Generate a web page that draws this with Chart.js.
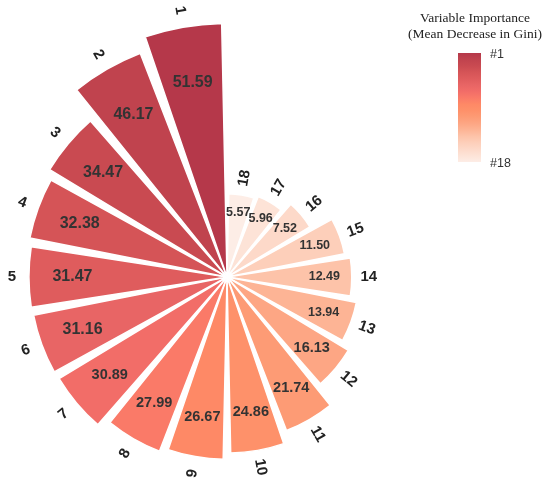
<!DOCTYPE html>
<html>
<head>
<meta charset="utf-8">
<script src="https://cdn.jsdelivr.net/npm/chart.js@4/dist/chart.umd.min.js"></script>
<style>
html,body{margin:0;padding:0;background:#fff;}
#wrap{width:550px;height:485px;position:relative;}
</style>
</head>
<body>
<div id="wrap"><canvas id="c"></canvas></div>
<script>
// ---- data (rank order #1 .. #18) ----
const ranks = ['1','2','3','4','5','6','7','8','9','10','11','12','13','14','15','16','17','18'];
const importance = [51.59, 46.17, 34.47, 32.38, 31.47, 31.16, 30.89, 27.99, 26.67, 24.86, 21.74, 16.13, 13.94, 12.49, 11.50, 7.52, 5.96, 5.57];
const sliceColors = ['#b5384a','#c0434e','#c94a51','#d55457','#df5c5d','#e86565','#f26d68','#fa7a68','#fe8966','#fe916a','#fd9b75','#fda684','#fdb495','#fdc3a9','#fdcfba','#fdd9c9','#fde3d7','#fdede6'];
const legendTitle = ['Variable Importance', '(Mean Decrease in Gini)'];
const legendEnds = ['#1', '#18'];

// slices are laid out clockwise from 12 o'clock: #18, #17, ..., #1
const order = ranks.map((_, i) => ranks.length - 1 - i);
const labels = order.map(i => ranks[i]);
const values = order.map(i => importance[i]);
const colors = order.map(i => sliceColors[i]);

// radial scale whose radius is proportional to sqrt(value) (area-proportional)
class SqrtRadialScale extends Chart.RadialLinearScale {
  getDistanceFromCenterForValue(value) {
    if (value === null || value === undefined || isNaN(value)) return NaN;
    return Math.sqrt(Math.max(value - this.min, 0)) * this.drawingArea / Math.sqrt(this.max - this.min);
  }
}
SqrtRadialScale.id = 'radialSqrt';
Chart.register(SqrtRadialScale);

// polar area with small angular gaps between wedges
const GAP_DEG = 2.4;
class GapPolarController extends Chart.PolarAreaController {
  updateElement(element, index, properties, mode) {
    if (properties && typeof properties.startAngle === 'number') {
      const g = GAP_DEG * Math.PI / 360;
      if (properties.endAngle - properties.startAngle > 2 * g) {
        properties.startAngle += g;
        properties.endAngle -= g;
      }
    }
    super.updateElement(element, index, properties, mode);
  }
}
GapPolarController.id = 'gapPolar';
Chart.register(GapPolarController);

function valueFontSize(rank) {
  if (rank <= 6) return 16;
  if (rank <= 12) return 14.5;
  return 12.5;
}

const sliceLabels = {
  id: 'sliceLabels',
  afterDatasetsDraw(chart) {
    const meta = chart.getDatasetMeta(0);
    const ctx = chart.ctx;
    meta.data.forEach((arc, i) => {
      const p = arc.getProps(['x', 'y', 'startAngle', 'endAngle', 'outerRadius'], true);
      const mid = (p.startAngle + p.endAngle) / 2;
      const rank = Number(labels[i]);
      ctx.save();
      ctx.textAlign = 'center';
      ctx.textBaseline = 'middle';
      // value label inside the wedge
      const rv = p.outerRadius * 0.78;
      ctx.font = 'bold ' + valueFontSize(rank) + 'px "Liberation Sans", Arial, sans-serif';
      ctx.fillStyle = '#333333';
      ctx.fillText(values[i].toFixed(2), p.x + Math.cos(mid) * rv, p.y + Math.sin(mid) * rv);
      // rank label outside, radially oriented
      const rr = p.outerRadius + 17;
      ctx.translate(p.x + Math.cos(mid) * rr, p.y + Math.sin(mid) * rr);
      ctx.rotate(Math.cos(mid) >= 0 ? mid : mid - Math.PI);
      ctx.font = 'bold 15px "Liberation Sans", Arial, sans-serif';
      ctx.fillStyle = '#222222';
      ctx.fillText(labels[i], 0, 0);
      ctx.restore();
    });
  }
};

const gradientLegend = {
  id: 'gradientLegend',
  afterDraw(chart) {
    const ctx = chart.ctx;
    ctx.save();
    ctx.fillStyle = '#222222';
    ctx.textAlign = 'center';
    ctx.textBaseline = 'alphabetic';
    ctx.font = '13.5px "Liberation Serif", "Times New Roman", serif';
    ctx.fillText(legendTitle[0], 475, 22);
    ctx.fillText(legendTitle[1], 475, 38);
    const top = 53, bottom = 162, left = 458, w = 23;
    const grad = ctx.createLinearGradient(0, top, 0, bottom);
    sliceColors.forEach((c, k) => grad.addColorStop(k / (sliceColors.length - 1), c));
    ctx.fillStyle = grad;
    ctx.fillRect(left, top, w, bottom - top);
    ctx.fillStyle = '#333333';
    ctx.textAlign = 'left';
    ctx.font = '12.5px "Liberation Sans", Arial, sans-serif';
    ctx.fillText(legendEnds[0], 490, 58);
    ctx.fillText(legendEnds[1], 490, 167);
    ctx.restore();
  }
};

new Chart(document.getElementById('c'), {
  type: 'gapPolar',
  data: {
    labels: labels,
    datasets: [{
      data: values,
      backgroundColor: colors,
      borderColor: '#ffffff',
      borderWidth: 1.5,
      clip: false
    }]
  },
  options: {
    responsive: true,
    maintainAspectRatio: false,
    animation: false,
    layout: { padding: { left: 0, right: 96, top: 69, bottom: 0 } },
    plugins: { legend: { display: false }, tooltip: { enabled: false } },
    scales: {
      r: {
        type: 'radialSqrt',
        min: 0,
        max: 34.7,
        startAngle: 0,
        ticks: { display: false },
        grid: { display: false },
        angleLines: { display: false },
        pointLabels: { display: false }
      }
    }
  },
  plugins: [sliceLabels, gradientLegend]
});
</script>
</body>
</html>
